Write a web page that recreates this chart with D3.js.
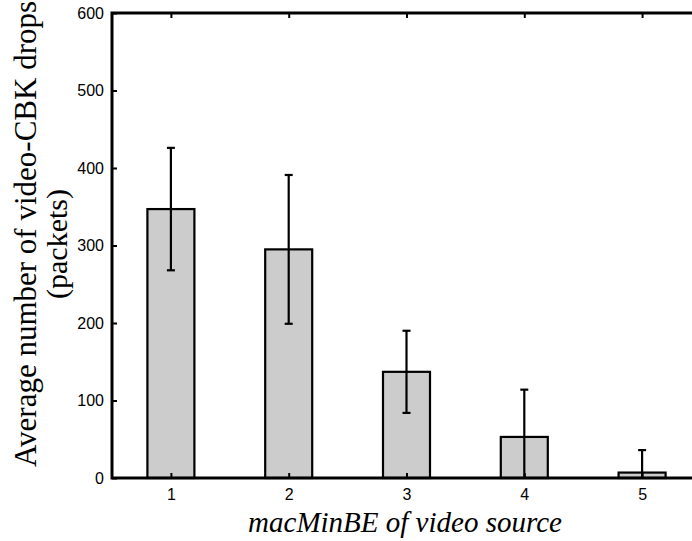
<!DOCTYPE html>
<html lang="en">
<head>
<meta charset="utf-8">
<title>video-CBK drops</title>
<script src="https://d3js.org/d3.v7.min.js"></script>
<style>
  body { margin: 0; background: #fff; }
  .lbl { font-family: "Liberation Serif", "Times New Roman", serif; fill: #000; }
</style>
</head>
<body>
<script>
// data
var sources = [1, 2, 3, 4, 5];              // macMinBE
var drops = [347, 295, 137, 53, 7];          // average drops (packets)
var dropErr = [79, 96, 53, 61, 29];          // error bar half-length
var yTicks = [0, 100, 200, 300, 400, 500, 600];

var W = 692, H = 541;
var margin = {top: 13, left: 112, bottom: 63};

var x = d3.scaleLinear().domain([0.5, 5.5]).range([margin.left, 701]);
var y = d3.scaleLinear().domain([0, 600]).range([H - margin.bottom, margin.top]);
var barW = 47;

var svg = d3.select("body").append("svg")
    .attr("width", W).attr("height", H);

svg.append("clipPath").attr("id", "plot")
  .append("rect")
    .attr("x", x(0.5)).attr("y", y(600))
    .attr("width", x(5.5) - x(0.5)).attr("height", y(0) - y(600));

// bars
svg.append("g").selectAll("rect")
    .data(sources)
    .enter().append("rect")
    .attr("x", function (d) { return x(d) - barW / 2; })
    .attr("y", function (d, i) { return y(drops[i]); })
    .attr("width", barW)
    .attr("height", function (d, i) { return y(0) - y(drops[i]); })
    .attr("fill", "#cccccc")
    .attr("stroke", "#000")
    .attr("stroke-width", 2.2);

// error bars
var eb = svg.append("g").attr("clip-path", "url(#plot)")
    .attr("stroke", "#000").attr("stroke-width", 2.2);
sources.forEach(function (s, i) {
    var hi = drops[i] + dropErr[i], lo = drops[i] - dropErr[i];
    eb.append("line").attr("x1", x(s)).attr("x2", x(s))
        .attr("y1", y(hi)).attr("y2", y(lo));
    eb.append("line").attr("x1", x(s) - 4).attr("x2", x(s) + 4)
        .attr("y1", y(hi)).attr("y2", y(hi));
    eb.append("line").attr("x1", x(s) - 4).attr("x2", x(s) + 4)
        .attr("y1", y(lo)).attr("y2", y(lo));
});

// axes
var yAxis = svg.append("g")
    .attr("transform", "translate(" + margin.left + ",0)")
    .call(d3.axisLeft(y).tickValues(yTicks).tickSize(-5).tickPadding(8).tickFormat(d3.format("d")));
var xAxis = svg.append("g")
    .attr("transform", "translate(0," + y(0) + ")")
    .call(d3.axisBottom(x).tickValues(sources).tickSize(-5).tickPadding(11).tickFormat(d3.format("d")));
var topAxis = svg.append("g")
    .attr("transform", "translate(0," + y(600) + ")")
    .call(d3.axisTop(x).tickValues(sources).tickSize(-5).tickFormat(""));
[yAxis, xAxis, topAxis].forEach(function (a) {
    a.select(".domain").remove();
    a.selectAll(".tick line").attr("stroke", "#000").attr("stroke-width", 2);
    a.selectAll(".tick text")
        .attr("fill", "#000")
        .style("font-family", "'Liberation Sans', Arial, sans-serif")
        .style("font-size", "16px");
});

// frame
svg.append("rect")
    .attr("x", x(0.5)).attr("y", y(600))
    .attr("width", x(5.5) - x(0.5)).attr("height", y(0) - y(600))
    .attr("fill", "none").attr("stroke", "#000").attr("stroke-width", 3);

// labels
svg.append("text").attr("class", "lbl")
    .attr("text-anchor", "middle").attr("font-size", 31)
    .attr("transform", "translate(36,234) rotate(-90)")
    .text("Average number of video-CBK drops");
svg.append("text").attr("class", "lbl")
    .attr("text-anchor", "middle").attr("font-size", 30)
    .attr("transform", "translate(67,244) rotate(-90)")
    .text("(packets)");
svg.append("text").attr("class", "lbl")
    .attr("text-anchor", "middle").attr("font-size", 29)
    .attr("x", 405).attr("y", 532)
    .style("font-style", "italic")
    .text("macMinBE of video source");
</script>
</body>
</html>
